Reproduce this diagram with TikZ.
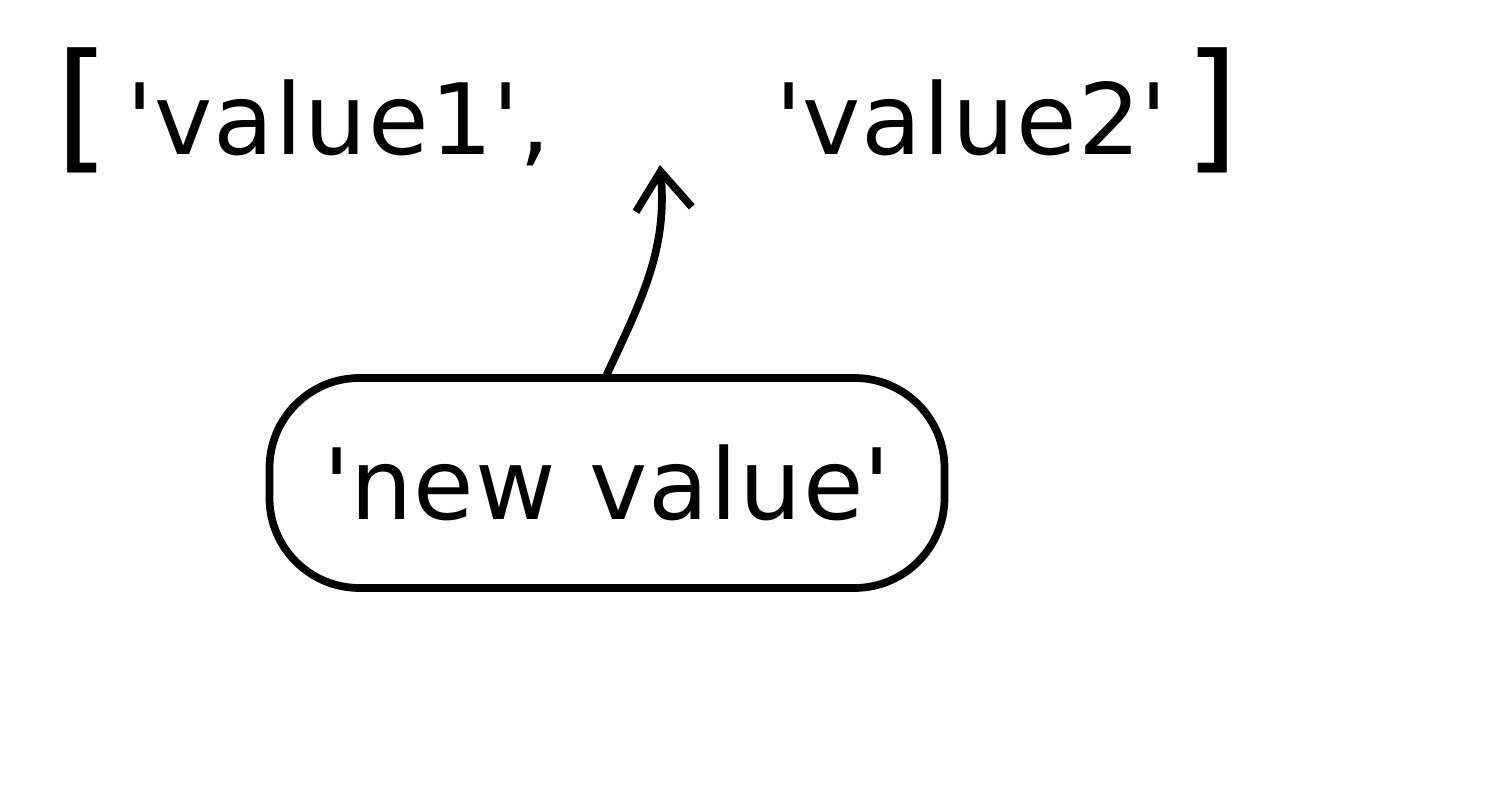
\documentclass[tikz,border=0pt]{standalone}
\usepackage{fontspec}
\setmainfont{DejaVu Sans}
\usetikzlibrary{arrows.meta,positioning}
\newcommand{\tick}{\textquotesingle}
\newcommand{\bigbr}[1]{{\fontsize{40}{40}\selectfont #1}}
\tikzset{
  hand/.style={font=\fontsize{28}{32}\selectfont\addfontfeatures{LetterSpace=1.5},inner sep=0pt},
  blob/.style={draw,line width=2.2pt,rounded corners=0.9cm,minimum width=6.75cm,minimum height=2.1cm},
  arr/.style={-{Straight Barb[length=3.8mm,width=5.6mm]},line width=2.2pt,line cap=round}
}
\begin{document}
\begin{tikzpicture}[x=1cm,y=1cm]
\path[use as bounding box] (0,0) rectangle (15,8);
% the list
\node[hand,anchor=base west] (list1) at (0.55,6.45) {\bigbr{[}\,\tick value1\tick,};
\node[hand,anchor=base east] (list2) at (12.4,6.45) {\tick value2\tick\,\bigbr{]}};
\coordinate (gap) at (6.6,6.35);
% the item to insert
\node[blob,hand] (newval) at (6.07,3.17) {\tick new value\tick};
\draw[arr] (newval.north) to[out=65,in=-85] (gap);
\end{tikzpicture}
\end{document}
